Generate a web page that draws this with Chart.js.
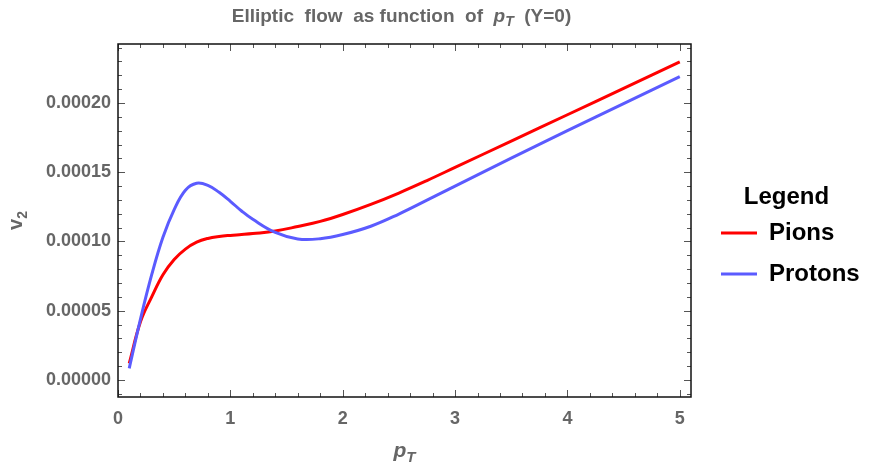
<!DOCTYPE html>
<html lang="en">
<head>
  <meta charset="UTF-8" />
  <title>Elliptic flow as function of pT</title>
  <script src="https://cdn.jsdelivr.net/npm/chart.js"></script>
  <style>
    html, body { margin: 0; padding: 0; background: #fff; }
    #wrap { width: 869px; height: 468px; }
  </style>
</head>
<body>
  <div id="wrap"><canvas id="flowChart" width="869" height="468"></canvas></div>

  <script>
    // transverse momentum samples
    const pT = [0.1, 0.2, 0.3, 0.4, 0.5, 0.6, 0.7, 0.8, 0.9, 1.0, 1.1, 1.2, 1.4, 1.6, 1.8,
                2.0, 2.25, 2.5, 2.75, 3.0, 3.5, 4.0, 4.5, 5.0];

    // v2
    const pions = [1.2e-5, 4.2e-5, 6.0e-5, 7.6e-5, 8.7e-5, 9.45e-5, 9.95e-5, 10.22e-5, 10.36e-5, 10.44e-5,
                   10.5e-5, 10.57e-5, 10.75e-5, 11.08e-5, 11.45e-5, 11.95e-5, 12.68e-5, 13.5e-5, 14.4e-5,
                   15.35e-5, 17.25e-5, 19.15e-5, 21.06e-5, 22.97e-5];
    const protons = [0.84e-5, 4.4e-5, 7.6e-5, 10.3e-5, 12.3e-5, 13.7e-5, 14.2e-5, 14.05e-5, 13.55e-5, 12.9e-5,
                     12.2e-5, 11.6e-5, 10.65e-5, 10.18e-5, 10.2e-5, 10.5e-5, 11.1e-5, 11.98e-5, 12.98e-5,
                     14.0e-5, 16.02e-5, 18.0e-5, 19.95e-5, 21.9e-5];

    const xTicks = [0, 1, 2, 3, 4, 5];
    const xTickLabels = ['0', '1', '2', '3', '4', '5'];
    const yTicks = [0, 0.00005, 0.0001, 0.00015, 0.0002];
    const yTickLabels = ['0.00000', '0.00005', '0.00010', '0.00015', '0.00020'];

    const FONT = 'Arial, "Liberation Sans", sans-serif';
    const GREY = '#666';

    const toPoints = ys => pT.map((x, i) => ({ x: x, y: ys[i] }));

    // frame with inward ticks on all four sides (Mathematica style)
    const framePlugin = {
      id: 'frame',
      afterDraw(chart) {
        const { ctx, chartArea: a, scales: { x, y } } = chart;
        ctx.save();
        ctx.strokeStyle = '#555';
        ctx.lineWidth = 1;
        ctx.beginPath();
        for (let k = 0; k <= 25; k++) {
          const px = Math.round(x.getPixelForValue(k * 0.2)) + 0.5;
          const len = k % 5 === 0 ? 7 : 4;
          ctx.moveTo(px, a.bottom); ctx.lineTo(px, a.bottom - len);
          ctx.moveTo(px, a.top); ctx.lineTo(px, a.top + len);
        }
        for (let k = -1; k <= 24; k++) {
          const py = Math.round(y.getPixelForValue(k * 0.00001)) + 0.5;
          const len = k % 5 === 0 ? 7 : 4;
          ctx.moveTo(a.left, py); ctx.lineTo(a.left + len, py);
          ctx.moveTo(a.right, py); ctx.lineTo(a.right - len, py);
        }
        ctx.stroke();
        ctx.strokeStyle = '#111';
        ctx.lineWidth = 1.5;
        ctx.strokeRect(a.left, a.top, a.right - a.left, a.bottom - a.top);
        ctx.restore();
      }
    };

    // text pieces with italic / subscript parts
    function drawRich(ctx, parts, x, y, rotate) {
      ctx.save();
      ctx.translate(x, y);
      if (rotate) ctx.rotate(-Math.PI / 2);
      ctx.textBaseline = 'alphabetic';
      ctx.textAlign = 'left';
      ctx.fillStyle = GREY;
      let total = 0;
      parts.forEach(p => { ctx.font = p.font; total += ctx.measureText(p.text).width; });
      let cx = -total / 2;
      parts.forEach(p => {
        ctx.font = p.font;
        ctx.fillText(p.text, cx, p.dy || 0);
        cx += ctx.measureText(p.text).width;
      });
      ctx.restore();
    }

    const labelsPlugin = {
      id: 'labels',
      afterDraw(chart) {
        const { ctx, chartArea: a } = chart;
        const mid = (a.left + a.right) / 2;
        drawRich(ctx, [
          { text: 'Elliptic  flow  as function  of  ', font: 'bold 19px ' + FONT },
          { text: 'p', font: 'italic bold 19px ' + FONT },
          { text: 'T', font: 'italic bold 14px ' + FONT, dy: 4 },
          { text: '  (Y=0)', font: 'bold 19px ' + FONT }
        ], mid - 3, 22);
        drawRich(ctx, [
          { text: 'p', font: 'italic bold 21px ' + FONT },
          { text: 'T', font: 'italic bold 15px ' + FONT, dy: 5 }
        ], mid, 457);
        drawRich(ctx, [
          { text: 'v', font: 'bold 20px ' + FONT },
          { text: '2', font: 'bold 14px ' + FONT, dy: 5 }
        ], 22, (a.top + a.bottom) / 2, true);
      }
    };

    new Chart('flowChart', {
      type: 'line',
      data: {
        datasets: [
          {
            label: 'Pions',
            data: toPoints(pions),
            borderColor: '#ff0000',
            borderWidth: 3,
            pointRadius: 0,
            tension: 0.4,
            order: 1
          },
          {
            label: 'Protons',
            data: toPoints(protons),
            borderColor: '#5b5bff',
            borderWidth: 3,
            pointRadius: 0,
            tension: 0.4,
            order: 0
          }
        ]
      },
      options: {
        responsive: false,
        animation: false,
        layout: { padding: { top: 44, left: 0, right: 0, bottom: 0 } },
        scales: {
          x: {
            type: 'linear',
            min: 0,
            max: 5.1,
            afterBuildTicks: s => { s.ticks = xTicks.map(v => ({ value: v })); },
            afterFit: s => { s.height = 71; },
            grid: { display: false, drawTicks: false },
            border: { display: false },
            ticks: {
              padding: 11,
              color: GREY,
              font: { family: FONT, size: 18, weight: 'bold' },
              callback: v => xTickLabels[xTicks.indexOf(v)]
            }
          },
          y: {
            type: 'linear',
            min: -0.0000123,
            max: 0.0002426,
            afterBuildTicks: s => { s.ticks = yTicks.map(v => ({ value: v })); },
            afterFit: s => { s.width = 118; },
            grid: { display: false, drawTicks: false },
            border: { display: false },
            ticks: {
              padding: 7,
              color: GREY,
              font: { family: FONT, size: 18, weight: 'bold' },
              callback: v => yTickLabels[yTicks.indexOf(v)]
            }
          },
          yR: {
            type: 'linear',
            position: 'right',
            min: 0,
            max: 1,
            afterFit: s => { s.width = 13; },
            grid: { display: false, drawTicks: false },
            border: { display: false },
            ticks: { display: false }
          }
        },
        plugins: {
          tooltip: { enabled: false },
          legend: {
            position: 'right',
            align: 'center',
            fullSize: false,
            maxWidth: 165,
            title: {
              display: true,
              text: 'Legend',
              color: '#000',
              font: { family: FONT, size: 24, weight: 'bold' },
              padding: { top: 47, bottom: -10 }
            },
            labels: {
              usePointStyle: true,
              pointStyle: 'line',
              pointStyleWidth: 36,
              padding: 17,
              color: '#000',
              font: { family: FONT, size: 24, weight: 'bold' },
              sort: (a, b) => a.datasetIndex - b.datasetIndex
            }
          }
        }
      },
      plugins: [framePlugin, labelsPlugin]
    });
  </script>
</body>
</html>
